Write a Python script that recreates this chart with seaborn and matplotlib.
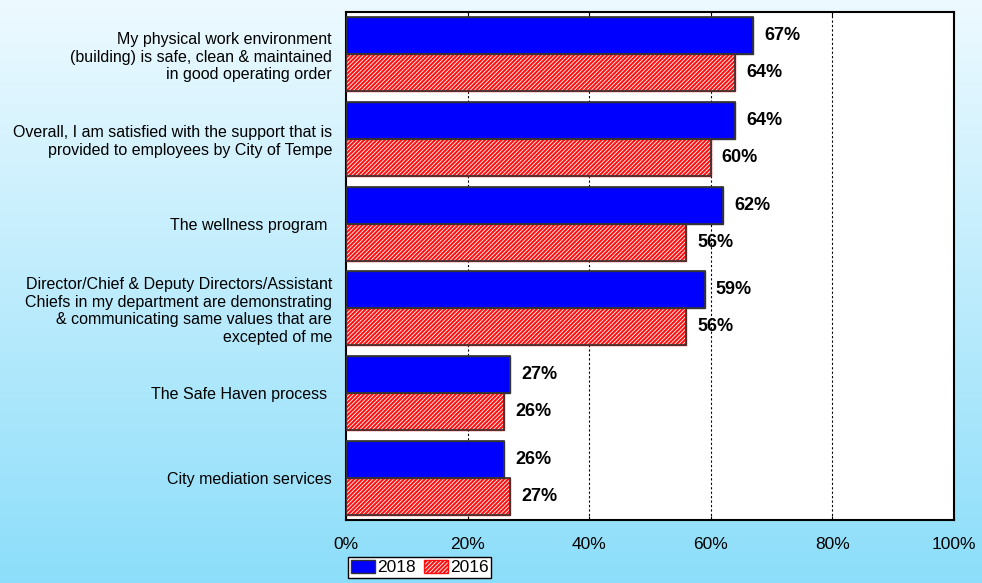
import numpy as np
import pandas as pd
import matplotlib
matplotlib.use("Agg")
import matplotlib.pyplot as plt
import seaborn as sns
from matplotlib.patches import Patch

categories = [
    "My physical work environment\n(building) is safe, clean & maintained\nin good operating order",
    "Overall, I am satisfied with the support that is\nprovided to employees by City of Tempe",
    "The wellness program ",
    "Director/Chief & Deputy Directors/Assistant\nChiefs in my department are demonstrating\n& communicating same values that are\nexcepted of me",
    "The Safe Haven process ",
    "City mediation services",
]
values_2018 = [67, 64, 62, 59, 27, 26]
values_2016 = [64, 60, 56, 56, 26, 27]
series = ["2018", "2016"]
x_ticks = [0, 20, 40, 60, 80, 100]
x_tick_labels = ["0%", "20%", "40%", "60%", "80%", "100%"]

df = pd.DataFrame({
    "category": categories * 2,
    "value": values_2018 + values_2016,
    "year": [series[0]] * len(categories) + [series[1]] * len(categories),
})

sns.set_style("white")
plt.rcParams["font.family"] = ["Liberation Sans", "DejaVu Sans"]
plt.rcParams["hatch.linewidth"] = 1.5
plt.rcParams["text.color"] = "black"
plt.rcParams["xtick.color"] = "black"
plt.rcParams["ytick.color"] = "black"
plt.rcParams["xtick.labelcolor"] = "black"
plt.rcParams["ytick.labelcolor"] = "black"

fig = plt.figure(figsize=(9.82, 5.83), dpi=100)

# gradient background
bg = fig.add_axes([0, 0, 1, 1], zorder=-10)
grad = np.linspace(0, 1, 256).reshape(-1, 1)
top = np.array([0.93, 0.98, 1.0])
bot = np.array([0.55, 0.87, 0.98])
img = top[None, None, :] * (1 - grad[:, :, None]) + bot[None, None, :] * grad[:, :, None]
bg.imshow(img, aspect="auto", extent=[0, 1, 0, 1])
bg.set_axis_off()

W, H = 982, 583
ax = fig.add_axes([346 / W, 1 - 520 / H, (954 - 346) / W, (520 - 12) / H])
ax.set_facecolor("white")

HATCH = "////////"
RED = "#ff1010"

sns.barplot(data=df, x="value", y="category", hue="year", hue_order=series,
            order=categories, orient="h", ax=ax, width=0.875, gap=0,
            palette={"2018": "#0000FF", "2016": "white"}, saturation=1,
            edgecolor="#333333", linewidth=1.0, legend=False, zorder=3)

n = len(categories)
for i, p in enumerate(ax.patches):
    if i >= n:
        p.set_hatch(HATCH)
        p.set_edgecolor(RED)
for i, p in enumerate(list(ax.patches)):
    ax.add_patch(plt.Rectangle((p.get_x(), p.get_y()), p.get_width(), p.get_height(),
                               fill=False, edgecolor="#333333", linewidth=1.2, zorder=4))
    w = p.get_width()
    ax.text(w + 1.8, p.get_y() + p.get_height() / 2, f"{w:.0f}%",
            va="center", ha="left", fontsize=13, fontweight="bold", zorder=5)

ax.set_xlim(0, 100)
ax.set_ylim(n - 0.5, -0.5)
ax.set_xticks(x_ticks)
ax.set_xticklabels(x_tick_labels, fontsize=12.5)
ax.tick_params(axis="x", direction="in", length=3, top=True, bottom=True,
               labeltop=False, pad=12, color="black")
ax.tick_params(axis="y", length=0, labelsize=11.5, pad=10)
for x in x_ticks[1:-1]:
    ax.axvline(x, color="black", linestyle=(0, (2, 2)), linewidth=0.8, zorder=1)
ax.set_xlabel("")
ax.set_ylabel("")
for s in ax.spines.values():
    s.set_visible(True)
    s.set_color("black")
    s.set_linewidth(1.5)

handles = [Patch(facecolor="#0000FF", edgecolor="#333333", label="2018"),
           Patch(facecolor="white", edgecolor=RED, hatch=HATCH, label="2016")]
leg = fig.legend(handles=handles, loc="upper left", bbox_to_anchor=(348 / W, 1 - 557 / H),
                 ncol=2, fontsize=12.5, frameon=True, fancybox=False, handlelength=1.4,
                 handleheight=0.8, handletextpad=0.1, columnspacing=0.5,
                 borderpad=0.15, borderaxespad=0)
leg.get_frame().set_edgecolor("black")
leg.get_frame().set_linewidth(1.0)
leg.get_frame().set_facecolor("white")
leg.get_frame().set_alpha(1)

fig.savefig("out.png", dpi=100)
